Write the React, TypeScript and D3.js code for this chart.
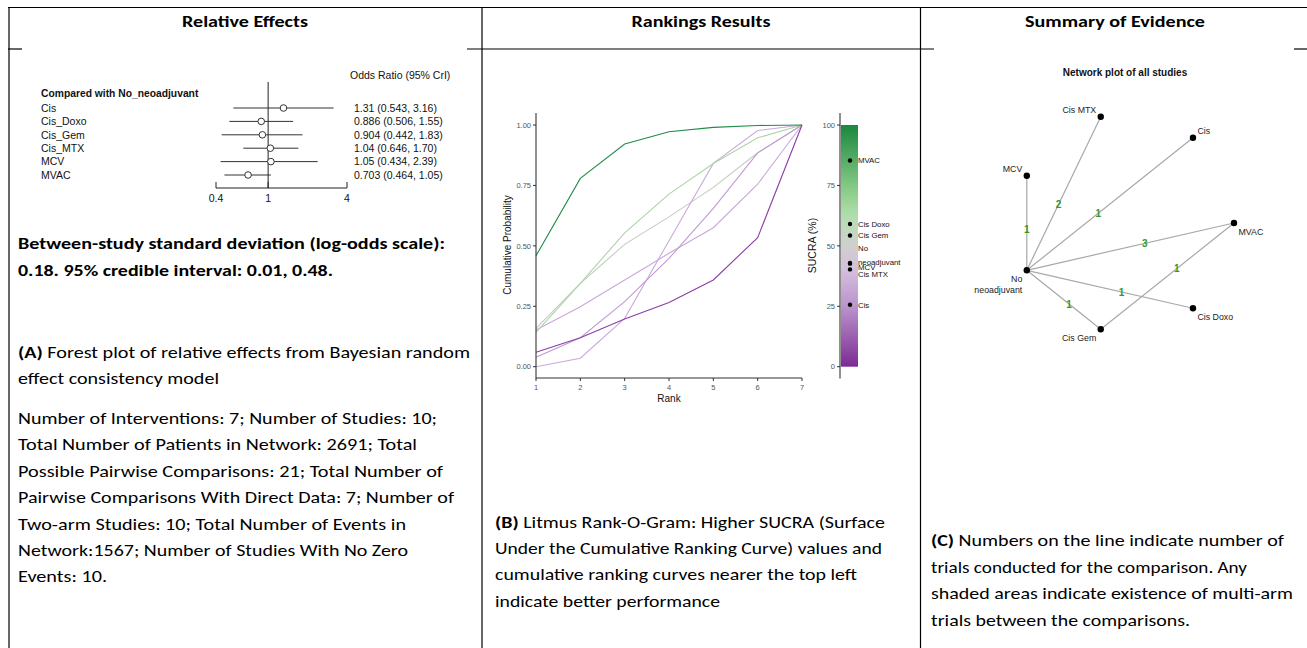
import React from "react";
import * as d3 from "d3";

const W = 1307;
const H = 648;

// ---------- table headers ----------
const headerTitles = ["Relative Effects", "Rankings Results", "Summary of Evidence"];

// ---------- forest plot data ----------
const forestLabels = ["Cis", "Cis_Doxo", "Cis_Gem", "Cis_MTX", "MCV", "MVAC"];
const forestOR = [1.31, 0.886, 0.904, 1.04, 1.05, 0.703];
const forestLo = [0.543, 0.506, 0.442, 0.646, 0.434, 0.464];
const forestHi = [3.16, 1.55, 1.83, 1.7, 2.39, 1.05];
const forestTicks = [0.4, 1, 4];

// ---------- litmus rank-o-gram data ----------
const ranks = [1, 2, 3, 4, 5, 6, 7];
const litmusTreatments = ["MVAC", "Cis Doxo", "Cis Gem", "No neoadjuvant", "MCV", "Cis MTX", "Cis"];
const cumMVAC = [0.459, 0.779, 0.921, 0.972, 0.99, 0.998, 1];
const cumCisDoxo = [0.142, 0.345, 0.554, 0.714, 0.841, 0.947, 1];
const cumCisGem = [0.159, 0.345, 0.506, 0.62, 0.742, 0.885, 1];
const cumNoNeo = [0.0, 0.035, 0.2, 0.521, 0.841, 0.977, 1];
const cumMCV = [0.152, 0.248, 0.359, 0.469, 0.575, 0.755, 1];
const cumCisMTX = [0.039, 0.12, 0.269, 0.448, 0.655, 0.885, 1];
const cumCis = [0.06, 0.12, 0.197, 0.266, 0.359, 0.534, 1];
const litmusCurves = [cumMVAC, cumCisDoxo, cumCisGem, cumNoNeo, cumMCV, cumCisMTX, cumCis];
const probTicks = [0, 0.25, 0.5, 0.75, 1];
const sucraTicks = [0, 25, 50, 75, 100];

// ---------- network data ----------
const netNodes = ["MVAC", "Cis", "Cis MTX", "MCV", "No neoadjuvant", "Cis Gem", "Cis Doxo"];
const edgeFrom = ["MCV", "Cis MTX", "Cis", "No neoadjuvant", "No neoadjuvant", "No neoadjuvant", "Cis Gem"];
const edgeTo = ["No neoadjuvant", "No neoadjuvant", "No neoadjuvant", "MVAC", "Cis Doxo", "Cis Gem", "MVAC"];
const edgeStudies = [1, 2, 1, 3, 1, 1, 1];

// ---------- caption text ----------
const textA1 = [
  "Between-study standard deviation (log-odds scale):",
  "0.18. 95% credible interval: 0.01, 0.48.",
];
const textA2 = ["Forest plot of relative effects from Bayesian random", "effect consistency model"];
const textA3 = [
  "Number of Interventions: 7; Number of Studies: 10;",
  "Total Number of Patients in Network: 2691; Total",
  "Possible Pairwise Comparisons: 21; Total Number of",
  "Pairwise Comparisons With Direct Data: 7; Number of",
  "Two-arm Studies: 10; Total Number of Events in",
  "Network:1567; Number of Studies With No Zero",
  "Events: 10.",
];
const textB = [
  "Litmus Rank-O-Gram: Higher SUCRA (Surface",
  "Under the Cumulative Ranking Curve) values and",
  "cumulative ranking curves nearer the top left",
  "indicate better performance",
];
const textC = [
  "Numbers on the line indicate number of",
  "trials conducted for the comparison. Any",
  "shaded areas indicate existence of multi-arm",
  "trials between the comparisons.",
];

const BODY_FONT = "Carlito, Calibri, Lato, 'Open Sans', sans-serif";
const PLOT_FONT = "'Liberation Sans', Arial, Helvetica, sans-serif";

function Forest() {
  const x = d3.scaleLog().domain([0.4, 4]).range([216, 347]);
  const y = d3.scalePoint<string>().domain(forestLabels).range([108, 175]);
  const fmt = d3.format(".3r");
  return (
    <g fontFamily={PLOT_FONT} fill="#111">
      <text x={350} y={79} fontSize={10.5}>Odds Ratio (95% CrI)</text>
      <text x={41} y={96.5} fontSize={10.3} fontWeight="bold">Compared with No_neoadjuvant</text>
      <line x1={x(1)} x2={x(1)} y1={82} y2={188} stroke="#222" strokeWidth={1} />
      {forestLabels.map((lab, i) => {
        const yy = y(lab) as number;
        return (
          <g key={lab}>
            <text x={41} y={yy + 3.8} fontSize={10.5}>{lab}</text>
            <line x1={x(forestLo[i])} x2={x(forestHi[i])} y1={yy} y2={yy} stroke="#333" strokeWidth={1} />
            <circle cx={x(forestOR[i])} cy={yy} r={3.3} fill="#fff" stroke="#333" strokeWidth={1} />
            <text x={354} y={yy + 3.8} fontSize={10.5}>
              {`${fmt(forestOR[i])} (${fmt(forestLo[i])}, ${fmt(forestHi[i])})`}
            </text>
          </g>
        );
      })}
      <line x1={x(0.4)} x2={x(4)} y1={188} y2={188} stroke="#222" />
      {forestTicks.map((t) => (
        <g key={t}>
          <line x1={x(t)} x2={x(t)} y1={182} y2={188} stroke="#222" />
          <text x={x(t)} y={201.5} fontSize={10.5} textAnchor="middle">{String(t)}</text>
        </g>
      ))}
    </g>
  );
}

function Litmus() {
  const x = d3.scaleLinear().domain([1, 7]).range([536, 802]);
  const y = d3.scaleLinear().domain([0, 1]).range([366.7, 125]);
  const ys = d3.scaleLinear().domain([0, 100]).range([366.7, 125]);
  const sucra = litmusCurves.map((c) => (d3.mean(c.slice(0, 6)) as number) * 100);
  const barColor = d3
    .scaleLinear<string>()
    .domain([0, 25, 40, 50, 62, 75, 100])
    .range(["#7b2b94", "#bb94cc", "#d3bfdd", "#cfcfcf", "#b5dfb0", "#82c882", "#1a873f"]);
  const [smin, smax] = d3.extent(sucra) as [number, number];
  const lineColor = d3
    .scaleLinear<string>()
    .domain([smin, 40, 43, 54, 59, smax])
    .range(["#8a3fa8", "#bf98d2", "#caaadb", "#c5ccc4", "#acd4a7", "#1f8d48"]);
  const line = d3
    .line<number>()
    .x((_, i) => x(ranks[i]))
    .y((d) => y(d));
  const stops = d3.range(0, 101, 5);
  const labelNudge: Record<string, number> = { "No neoadjuvant": -8, MCV: 4, "Cis MTX": 4.5 };
  const order = d3.range(litmusCurves.length).sort((a, b) => Math.abs(sucra[a] - 50) - Math.abs(sucra[b] - 50));
  return (
    <g fontFamily={PLOT_FONT}>
      <defs>
        <linearGradient id="sucraGrad" x1="0" y1="1" x2="0" y2="0">
          {stops.map((s) => (
            <stop key={s} offset={`${s}%`} stopColor={barColor(s)} />
          ))}
        </linearGradient>
      </defs>
      {order.map((i) => (
        <path key={litmusTreatments[i]} d={line(litmusCurves[i]) as string} fill="none" stroke={lineColor(sucra[i])} strokeWidth={1.1} />
      ))}
      <line x1={536} x2={536} y1={113} y2={378.5} stroke="#333" strokeWidth={1.1} />
      <line x1={536} x2={802} y1={378} y2={378} stroke="#333" strokeWidth={1.1} />
      {probTicks.map((t) => (
        <g key={t}>
          <line x1={533} x2={536} y1={y(t)} y2={y(t)} stroke="#333" />
          <text x={531} y={y(t) + 2.7} fontSize={7.5} fill="#555" textAnchor="end">{d3.format(".2f")(t)}</text>
        </g>
      ))}
      {ranks.map((r) => (
        <g key={r}>
          <line x1={x(r)} x2={x(r)} y1={378} y2={381} stroke="#333" />
          <text x={x(r)} y={389.5} fontSize={7.5} fill="#555" textAnchor="middle">{r}</text>
        </g>
      ))}
      <text x={669} y={401.5} fontSize={10} textAnchor="middle" fill="#111">Rank</text>
      <text transform="translate(510.5,245) rotate(-90)" fontSize={10} textAnchor="middle" fill="#111">Cumulative Probability</text>
      <rect x={841} y={ys(100)} width={17} height={ys(0) - ys(100)} fill="url(#sucraGrad)" />
      <line x1={840} x2={840} y1={113} y2={378.5} stroke="#333" strokeWidth={1.1} />
      {sucraTicks.map((t) => (
        <g key={t}>
          <line x1={837} x2={840} y1={ys(t)} y2={ys(t)} stroke="#333" />
          <text x={835} y={ys(t) + 2.7} fontSize={7.5} fill="#555" textAnchor="end">{t}</text>
        </g>
      ))}
      <text transform="translate(815.5,245.5) rotate(-90)" fontSize={10.5} textAnchor="middle" fill="#111">SUCRA (%)</text>
      {litmusTreatments.map((name, i) => {
        const cy = ys(sucra[i]);
        const ly = cy + (labelNudge[name] || 0);
        const parts = name === "No neoadjuvant" ? ["No", "neoadjuvant"] : [name];
        return (
          <g key={name}>
            <circle cx={850} cy={cy} r={2.2} fill="#000" />
            {parts.length === 1 ? (
              <text x={858} y={ly + 2.8} fontSize={7.8} fill="#111">{name}</text>
            ) : (
              <text fontSize={7.8} fill="#111">
                <tspan x={858} y={ly - 7.3 + 2.8}>{parts[0]}</tspan>
                <tspan x={858} y={ly + 7.3 + 2.8}>{parts[1]}</tspan>
              </text>
            )}
          </g>
        );
      })}
    </g>
  );
}

function Network() {
  const cx = 1125;
  const cy = 223;
  const r = 109;
  const sx = d3.scaleLinear().domain([-1, 1]).range([cx - r, cx + r]);
  const sy = d3.scaleLinear().domain([-1, 1]).range([cy + r, cy - r]);
  const angle = d3.scaleLinear().domain([0, netNodes.length]).range([0, 2 * Math.PI]);
  const pos: Record<string, { x: number; y: number; c: number; s: number }> = {};
  netNodes.forEach((n, i) => {
    const a = angle(i);
    pos[n] = { x: sx(Math.cos(a)), y: sy(Math.sin(a)), c: Math.cos(a), s: Math.sin(a) };
  });
  return (
    <g fontFamily={PLOT_FONT}>
      <text x={1125} y={75.5} fontSize={10} fontWeight="bold" textAnchor="middle" fill="#111">Network plot of all studies</text>
      {edgeFrom.map((f, i) => {
        const a = pos[f];
        const b = pos[edgeTo[i]];
        return <line key={`e${i}`} x1={a.x} y1={a.y} x2={b.x} y2={b.y} stroke="#a8a8a8" strokeWidth={1.2} />;
      })}
      {edgeFrom.map((f, i) => {
        const a = pos[f];
        const b = pos[edgeTo[i]];
        const t = 0.57;
        return (
          <text key={`l${i}`} x={a.x + (b.x - a.x) * t} y={a.y + (b.y - a.y) * t + 3.6} fontSize={10} fontWeight="bold" fill="#2f9a2f" textAnchor="middle">
            {edgeStudies[i]}
          </text>
        );
      })}
      {netNodes.map((n) => {
        const p = pos[n];
        const left = p.c < -0.01;
        const up = p.s > 0.01;
        const anchor = left ? "end" : "start";
        const lx = left ? p.x - 4.5 : p.x + 4.5;
        const ly = up ? p.y - 6.7 : p.y + 8.6;
        const parts = n === "No neoadjuvant" ? ["No", "neoadjuvant"] : [n];
        return (
          <g key={n}>
            <circle cx={p.x} cy={p.y} r={3.2} fill="#000" />
            <text fontSize={8.8} fill="#222" textAnchor={anchor}>
              {parts.map((pt, k) => (
                <tspan key={pt} x={lx} y={ly + 3.2 + k * 11}>{pt}</tspan>
              ))}
            </text>
          </g>
        );
      })}
    </g>
  );
}

function Caption({ x, y0, step, lines, bold, prefix, widths }: { x: number; y0: number; step: number; lines: string[]; bold?: boolean; prefix?: string; widths?: number[] }) {
  return (
    <g fontFamily={BODY_FONT} fontSize={16.5} fill="#000">
      {lines.map((ln, i) => (
        <text
          key={i}
          x={x}
          y={y0 + i * step}
          fontWeight={bold ? "bold" : "normal"}
          {...(widths ? { textLength: widths[i], lengthAdjust: "spacingAndGlyphs" } : {})}
        >
          {i === 0 && prefix ? <tspan fontWeight="bold">{prefix} </tspan> : null}
          {ln}
        </text>
      ))}
    </g>
  );
}

export default function App() {
  const headerX = [245, 701, 1115];
  const headerW = [126, 139, 180];
  return (
    <svg width={W} height={H} style={{ position: "absolute", left: 0, top: 0, background: "#fff" }} xmlns="http://www.w3.org/2000/svg">
      <rect x={0} y={0} width={W} height={H} fill="#fff" />
      <g stroke="#000" strokeWidth={1.2}>
        <line x1={8} x2={W} y1={7.5} y2={7.5} />
        <line x1={9} x2={9} y1={7} y2={H} />
        <line x1={482} x2={482} y1={7} y2={H} />
        <line x1={920.5} x2={920.5} y1={7} y2={H} />
        <line x1={8} x2={22} y1={49} y2={49} />
        <line x1={467} x2={934} y1={49} y2={49} />
        <line x1={1294} x2={W} y1={49} y2={49} />
      </g>
      {headerTitles.map((h, i) => (
        <text key={h} x={headerX[i]} y={26.5} textAnchor="middle" fontFamily={BODY_FONT} fontWeight="bold" fontSize={16.5} textLength={headerW[i]} lengthAdjust="spacingAndGlyphs">
          {h}
        </text>
      ))}
      <Forest />
      <Caption x={18} y0={248.5} step={27} lines={textA1} bold widths={[427, 315]} />
      <Caption x={18} y0={357.5} step={26.7} lines={textA2} prefix="(A)" widths={[452, 201]} />
      <Caption x={18} y0={424} step={26.4} lines={textA3} widths={[419, 399, 425, 436, 388, 390, 89]} />
      <Litmus />
      <Caption x={495} y0={527.5} step={26.4} lines={textB} prefix="(B)" widths={[390, 387, 362, 225]} />
      <Network />
      <Caption x={931} y0={546} step={26.7} lines={textC} prefix="(C)" widths={[353, 316, 362, 259]} />
    </svg>
  );
}
